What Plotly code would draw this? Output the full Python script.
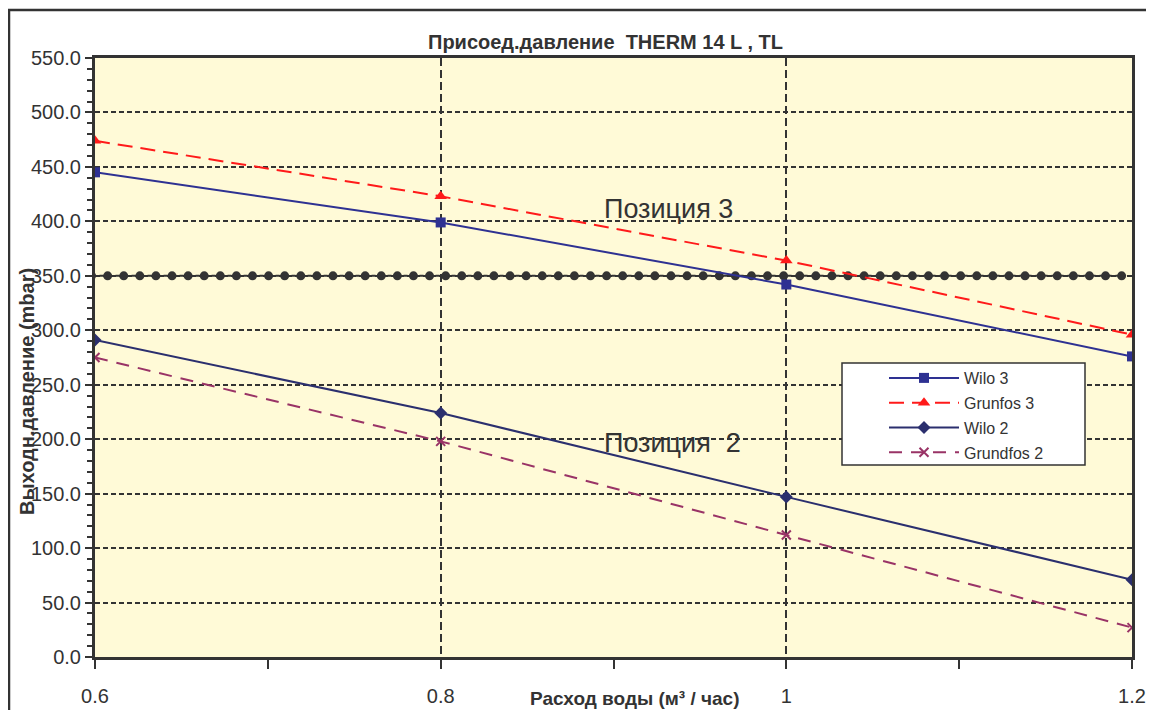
import plotly.graph_objects as go

# ---- data ----
flow = [0.6, 0.8, 1.0, 1.2]
wilo3 = [445, 399, 342, 276]
grunfos3 = [474, 423, 364, 296]
wilo2 = [291, 224, 147, 71]
grundfos2 = [275, 198, 112, 27]
limit_value = 350
x_tick_vals = [0.6, 0.8, 1.0, 1.2]
x_tick_text = ["0.6", "0.8", "1", "1.2"]
title_text = "Присоед.давление  THERM 14 L , TL"
x_title = "Расход воды (м³ / час)"
y_title = "Выходн.давление (mbar)"
label_pos3 = "Позиция 3"
label_pos2 = "Позиция  2"

# decorative dot positions for the limit line (style only)
n_dots = 65
limit_x = [0.598 + i * (1.194 - 0.598) / (n_dots - 1) for i in range(n_dots)]
limit_y = [limit_value] * n_dots

FONT = "Liberation Sans, Arial, sans-serif"
DARK = "#333333"

# page body has an 8px margin: figure is sized to fit the viewport
OFF = 8
W, H = 1154 - 2 * OFF, 718 - 2 * OFF
PL, PR, PT, PB = 95, 1132, 58, 657          # plot area in screen px
PW, PH = PR - PL, PB - PT


def px(x):
    return (x - PL) / PW


def py(y):
    return (PB - y) / PH


fig = go.Figure()

fig.add_trace(go.Scatter(
    x=limit_x, y=limit_y, mode="lines+markers", showlegend=False,
    line=dict(color=DARK, width=2, dash="4px,4px"),
    marker=dict(symbol="circle", size=9, color=DARK),
    hoverinfo="skip"))

fig.add_trace(go.Scatter(
    x=flow, y=wilo3, name="Wilo 3", mode="lines+markers", legendgroup="a",
    line=dict(color="#2E3192", width=2),
    marker=dict(symbol="square", size=10, color="#2E3192")))
fig.add_trace(go.Scatter(
    x=flow, y=grunfos3, name="Grunfos 3", mode="lines+markers", legendgroup="b",
    line=dict(color="#FF1A1A", width=2, dash="15px,8px"),
    marker=dict(symbol="triangle-up", size=11, color="#FF1A1A")))
fig.add_trace(go.Scatter(
    x=flow, y=wilo2, name="Wilo 2", mode="lines+markers", legendgroup="c",
    line=dict(color="#2B2F6E", width=2),
    marker=dict(symbol="diamond", size=10, color="#2B2F6E")))
fig.add_trace(go.Scatter(
    x=flow, y=grundfos2, name="Grundfos 2", mode="lines+markers", legendgroup="d",
    line=dict(color="#993366", width=2, dash="13px,9px"),
    marker=dict(symbol="x-thin", size=9, color="#993366",
                line=dict(color="#993366", width=2))))

fig.update_layout(
    width=W, height=H,
    margin=dict(l=PL - OFF, r=W - (PR - OFF), t=PT - OFF, b=H - (PB - OFF)),
    paper_bgcolor="white",
    plot_bgcolor="#FFFAD7",
    font=dict(family=FONT, color=DARK, size=20),
    showlegend=True,
    legend=dict(
        x=px(884), y=py(361), xanchor="left", yanchor="top",
        bgcolor="rgba(0,0,0,0)", borderwidth=0,
        font=dict(family=FONT, size=16, color=DARK),
        tracegroupgap=1, itemwidth=70,
    ),
)

fig.update_xaxes(
    range=[0.6, 1.2], automargin=False,
    tickmode="array", tickvals=x_tick_vals, ticktext=x_tick_text,
    ticks="outside", ticklen=9, tickwidth=1.5, tickcolor=DARK,
    ticklabelstandoff=10,
    minor=dict(tickvals=[0.7, 0.9, 1.1], ticks="outside", ticklen=9,
               tickwidth=1.5, tickcolor=DARK, showgrid=False),
    showgrid=True, gridcolor=DARK, gridwidth=1.5, griddash="8px,4px",
    showline=True, linecolor=DARK, linewidth=3, mirror=True,
    zeroline=False,
    tickfont=dict(family=FONT, size=20, color=DARK),
)

fig.update_yaxes(
    range=[0, 550], dtick=50, tickformat=".1f", automargin=False,
    ticks="outside", ticklen=7, tickwidth=1.5, tickcolor=DARK,
    minor=dict(dtick=10, ticks="outside", ticklen=5, tickwidth=1.5,
               tickcolor=DARK, showgrid=False),
    showgrid=True, gridcolor=DARK, gridwidth=1.5, griddash="5px,3px",
    showline=True, linecolor=DARK, linewidth=3, mirror=True,
    zeroline=False,
    tickfont=dict(family=FONT, size=20, color=DARK),
)

# outer chart border
fig.add_shape(type="rect", xref="paper", yref="paper",
              x0=px(9), x1=1.06, y0=-0.15, y1=py(10),
              line=dict(color=DARK, width=2.5), fillcolor="rgba(0,0,0,0)",
              layer="below")
# legend box
fig.add_shape(type="rect", xref="paper", yref="paper",
              x0=px(842), x1=px(1085), y0=py(465), y1=py(363),
              line=dict(color=DARK, width=1.5), fillcolor="white",
              layer="above")

annotations = [
    dict(text="<b>" + title_text + "</b>", x=px(605), y=py(42),
         font=dict(size=20, color=DARK)),
    dict(text="<b>" + x_title + "</b>", x=px(634), y=py(698),
         font=dict(size=19, color=DARK)),
    dict(text="<b>" + y_title + "</b>", x=px(27), y=py(392),
         textangle=-90, font=dict(size=20, color=DARK)),
    dict(text=label_pos3, x=px(668), y=py(209),
         font=dict(size=27, color=DARK)),
    dict(text=label_pos2, x=px(672), y=py(443),
         font=dict(size=27, color=DARK)),
]
for a in annotations:
    fig.add_annotation(xref="paper", yref="paper", showarrow=False,
                       xanchor="center", yanchor="middle",
                       font_family=FONT, **a)

fig.write_html("out.html")
